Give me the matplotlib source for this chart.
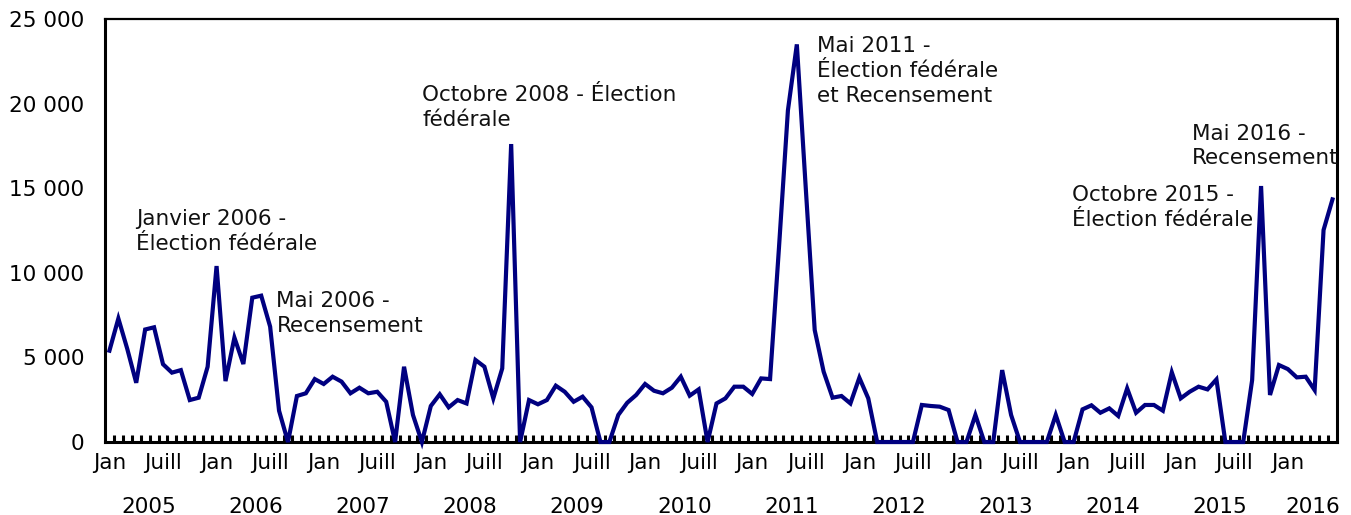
import matplotlib
matplotlib.use("Agg")
import matplotlib.pyplot as plt
import matplotlib.transforms as mtransforms
from matplotlib.ticker import FixedLocator, FuncFormatter

# monthly values, Jan 2005 -> Jun 2016
years = [2005, 2006, 2007, 2008, 2009, 2010, 2011, 2012, 2013, 2014, 2015, 2016]
month_labels = ["Jan", "Juill"]

v2005 = [5400, 7300, 5500, 3500, 6650, 6780, 4600, 4100, 4250, 2480, 2620, 4450]
v2006 = [10400, 3600, 6170, 4610, 8530, 8650, 6820, 1850, 0, 2720, 2880, 3720]
v2007 = [3430, 3860, 3570, 2880, 3210, 2880, 2970, 2380, 0, 4450, 1600, 0]
v2008 = [2130, 2820, 2050, 2480, 2280, 4850, 4450, 2580, 4350, 17610, 0, 2480]
v2009 = [2230, 2480, 3330, 2970, 2380, 2680, 2050, 0, 0, 1600, 2320, 2780]
v2010 = [3430, 3030, 2880, 3210, 3860, 2740, 3110, 0, 2280, 2580, 3270, 3270]
v2011 = [2840, 3760, 3720, 11500, 19600, 23500, 15000, 6620, 4160, 2620, 2720, 2280]
v2012 = [3800, 2580, 0, 0, 0, 0, 0, 2190, 2130, 2090, 1890, 0]
v2013 = [0, 1600, 0, 0, 4250, 1600, 0, 0, 0, 0, 1600, 0]
v2014 = [0, 1930, 2170, 1730, 1990, 1540, 3170, 1730, 2190, 2190, 1850, 4120]
v2015 = [2580, 2970, 3270, 3110, 3700, 0, 0, 0, 3660, 15130, 2780, 4550]
v2016 = [4310, 3820, 3860, 3070, 12530, 14340]

notes = [
    "Janvier 2006 -\nÉlection fédérale",
    "Mai 2006 -\nRecensement",
    "Octobre 2008 - Élection\nfédérale",
    "Mai 2011 -\nÉlection fédérale\net Recensement",
    "Octobre 2015 -\nÉlection fédérale",
    "Mai 2016 -\nRecensement",
]

values = (v2005 + v2006 + v2007 + v2008 + v2009 + v2010 + v2011
          + v2012 + v2013 + v2014 + v2015 + v2016)
n = len(values)
x = list(range(n))

plt.rcParams["font.family"] = "DejaVu Sans"
fs = 15.5

fig = plt.figure(figsize=(13.51, 5.15), dpi=100)
ax = fig.add_axes([0.0777, 0.1417, 0.9119, 0.8214])

ax.plot(x, values, color="#000080", lw=3.0, zorder=5, clip_on=False,
        solid_joinstyle="miter")

ax.set_xlim(-0.5, n - 0.5)
ax.set_ylim(0, 25000)

# y axis
ax.set_yticks(range(0, 25001, 5000))
ax.yaxis.set_major_formatter(FuncFormatter(lambda v, p: f"{int(v):,}".replace(",", " ")))
ax.tick_params(axis="y", length=0, pad=15, labelsize=fs, colors="black")

# x axis: month labels every 6 months, small ticks between months
ax.xaxis.set_major_locator(FixedLocator(list(range(0, n, 6))))
ax.set_xticklabels([month_labels[(i // 6) % 2] for i in range(0, n, 6)])
ax.xaxis.set_minor_locator(FixedLocator([i + 0.5 for i in range(n - 1)]))
ax.tick_params(axis="x", which="major", length=0, pad=8, labelsize=fs)
ax.tick_params(axis="x", which="minor", direction="in", length=5, width=2.2,
               color="black")

for side in ["left", "bottom", "right"]:
    ax.spines[side].set_linewidth(2.2)
ax.spines["top"].set_linewidth(1.6)

# year labels below the month labels
trans = mtransforms.blended_transform_factory(ax.transData, ax.transAxes)
for k, yr in enumerate(years):
    start = k * 12
    end = min(start + 11, n - 1)
    xc = (start + end) / 2 - 1.1
    if end - start < 11:
        xc = (start + end) / 2 + 0.3
    ax.text(xc, -0.153, str(yr), transform=trans, ha="center", va="center",
            fontsize=fs)

# event labels
note_pos = [(3.0, 12440), (18.7, 7590), (35.05, 19770), (79.3, 21920),
            (107.8, 13860), (121.3, 17490)]
for txt, (nx, ny) in zip(notes, note_pos):
    ax.text(nx, ny, txt, ha="left", va="center", fontsize=fs, color="#111111",
            linespacing=1.3, zorder=6)

fig.savefig("out.png", dpi=100)
